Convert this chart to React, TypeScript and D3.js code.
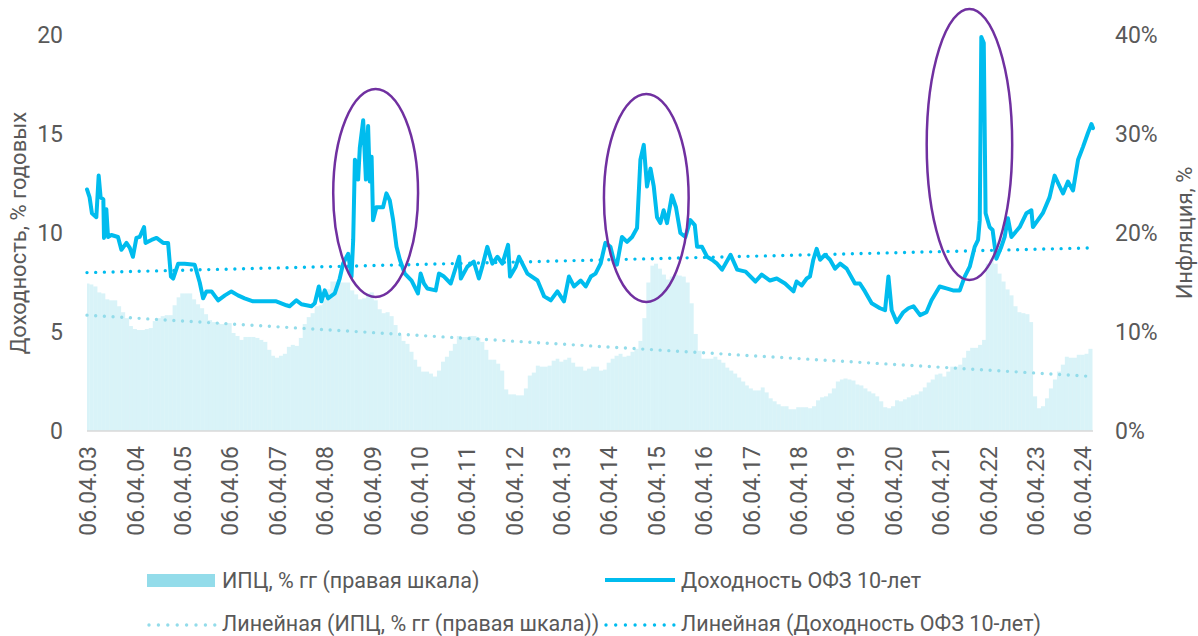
import React from "react";
import * as d3 from "d3";

// ---------- data ----------
const xTickLabels = [
  "06.04.03", "06.04.04", "06.04.05", "06.04.06", "06.04.07", "06.04.08", "06.04.09",
  "06.04.10", "06.04.11", "06.04.12", "06.04.13", "06.04.14", "06.04.15", "06.04.16",
  "06.04.17", "06.04.18", "06.04.19", "06.04.20", "06.04.21", "06.04.22", "06.04.23", "06.04.24",
];
const leftTicks = [0, 5, 10, 15, 20];
const rightTicks = [0, 10, 20, 30, 40];

// 10y OFZ yield, % p.a.
const ofzYield: [string, number][] = [
  ["2003-03-28", 12.2], ["2003-04-17", 11.8], ["2003-05-05", 11.0], ["2003-06-08", 10.8],
  ["2003-06-26", 12.9], ["2003-07-11", 11.8], ["2003-08-01", 11.7], ["2003-08-06", 9.75],
  ["2003-08-24", 11.2], ["2003-09-06", 9.8], ["2003-10-02", 9.9], ["2003-11-22", 9.8],
  ["2003-12-18", 9.15], ["2004-01-26", 9.5], ["2004-02-21", 9.25], ["2004-03-16", 8.8],
  ["2004-04-12", 9.75], ["2004-05-07", 9.8], ["2004-06-10", 10.3], ["2004-06-21", 9.5],
  ["2004-08-06", 9.65], ["2004-09-14", 9.75], ["2004-11-04", 9.5], ["2004-12-12", 9.5],
  ["2005-01-03", 7.8], ["2005-01-20", 7.7], ["2005-02-28", 8.45], ["2005-04-19", 8.45],
  ["2005-07-05", 8.4], ["2005-08-13", 7.5], ["2005-09-08", 6.7], ["2005-10-04", 7.05],
  ["2005-11-12", 7.05], ["2006-01-02", 6.6], ["2006-02-23", 6.85], ["2006-04-14", 7.05],
  ["2006-06-04", 6.85], ["2006-07-25", 6.7], ["2006-09-28", 6.55], ["2007-01-10", 6.55],
  ["2007-03-26", 6.55], ["2007-06-12", 6.35], ["2007-07-07", 6.3], ["2007-08-28", 6.6],
  ["2007-10-06", 6.4], ["2007-12-22", 6.3], ["2008-01-17", 6.45], ["2008-02-17", 7.3],
  ["2008-03-08", 6.55], ["2008-04-03", 7.1], ["2008-04-28", 6.7], ["2008-06-19", 6.95],
  ["2008-07-27", 7.7], ["2008-08-22", 8.45], ["2008-09-30", 8.95], ["2008-10-26", 7.8],
  ["2008-11-08", 9.65], ["2008-11-21", 13.7], ["2008-12-08", 13.5], ["2008-12-16", 12.7],
  ["2008-12-29", 14.3], ["2009-01-24", 15.7], ["2009-02-14", 12.7], ["2009-03-03", 15.4],
  ["2009-03-16", 12.6], ["2009-03-30", 13.85], ["2009-04-10", 10.65], ["2009-05-06", 11.3],
  ["2009-06-26", 11.3], ["2009-07-22", 12.0], ["2009-08-17", 11.65], ["2009-09-12", 10.65],
  ["2009-10-08", 9.3], ["2009-11-03", 8.65], ["2009-12-11", 7.95], ["2010-02-01", 7.6],
  ["2010-03-22", 6.95], ["2010-04-12", 7.95], ["2010-05-07", 7.45], ["2010-06-02", 7.2],
  ["2010-08-06", 7.1], ["2010-08-31", 7.95], ["2010-10-09", 7.8], ["2010-11-30", 7.45],
  ["2011-02-03", 8.8], ["2011-02-16", 7.7], ["2011-04-07", 8.3], ["2011-05-27", 8.55],
  ["2011-07-05", 7.7], ["2011-07-31", 8.3], ["2011-09-08", 9.3], ["2011-10-17", 8.45],
  ["2011-11-25", 8.8], ["2012-01-02", 8.45], ["2012-02-15", 9.4], ["2012-03-01", 7.8],
  ["2012-04-14", 8.3], ["2012-05-09", 8.8], ["2012-06-04", 8.45], ["2012-07-13", 7.95],
  ["2012-09-29", 7.6], ["2012-11-19", 6.8], ["2013-01-09", 6.6], ["2013-03-01", 7.05],
  ["2013-04-21", 6.55], ["2013-05-29", 7.8], ["2013-07-07", 7.3], ["2013-08-28", 7.6],
  ["2013-10-06", 7.3], ["2013-11-14", 7.8], ["2013-12-20", 7.95], ["2014-01-28", 8.45],
  ["2014-03-06", 9.5], ["2014-04-14", 9.3], ["2014-05-09", 8.65], ["2014-06-03", 8.4],
  ["2014-07-12", 9.8], ["2014-08-20", 9.55], ["2014-09-28", 9.8], ["2014-11-05", 10.25],
  ["2014-12-01", 13.7], ["2014-12-27", 14.45], ["2015-01-21", 12.35], ["2015-02-17", 13.25],
  ["2015-03-14", 12.35], ["2015-04-08", 10.8], ["2015-05-04", 10.5], ["2015-05-29", 11.15],
  ["2015-06-24", 10.5], ["2015-08-01", 11.9], ["2015-09-01", 11.3], ["2015-10-05", 10.0],
  ["2015-11-13", 9.8], ["2015-12-21", 10.65], ["2016-01-24", 10.4], ["2016-02-11", 9.3],
  ["2016-03-20", 9.3], ["2016-04-28", 8.8], ["2016-06-05", 8.65], ["2016-07-14", 8.45],
  ["2016-08-22", 8.15], ["2016-10-26", 8.9], ["2016-12-16", 8.15], ["2017-02-19", 8.05],
  ["2017-05-06", 7.55], ["2017-06-23", 7.9], ["2017-08-26", 7.6], ["2017-10-17", 7.7],
  ["2017-12-20", 7.45], ["2018-02-23", 7.05], ["2018-03-19", 7.55], ["2018-04-27", 7.35],
  ["2018-06-05", 7.7], ["2018-06-30", 7.8], ["2018-07-26", 8.65], ["2018-08-21", 9.2],
  ["2018-09-16", 8.65], ["2018-10-24", 8.9], ["2018-12-02", 8.65], ["2019-01-10", 8.2],
  ["2019-02-18", 8.45], ["2019-04-09", 8.2], ["2019-06-12", 7.45], ["2019-07-20", 7.45],
  ["2019-08-28", 7.05], ["2019-10-19", 6.45], ["2019-12-22", 6.2], ["2020-01-30", 6.1],
  ["2020-02-25", 7.8], ["2020-03-21", 6.1], ["2020-04-29", 5.5], ["2020-06-19", 6.0],
  ["2020-07-28", 6.2], ["2020-09-05", 6.3], ["2020-10-26", 5.85], ["2020-12-14", 6.0],
  ["2021-01-22", 6.6], ["2021-03-26", 7.3], ["2021-05-17", 7.2], ["2021-07-07", 7.1],
  ["2021-08-28", 7.1], ["2021-10-05", 7.8], ["2021-11-13", 8.3], ["2021-12-21", 9.3],
  ["2022-01-16", 9.65], ["2022-01-29", 10.65], ["2022-02-10", 19.9], ["2022-03-01", 19.6],
  ["2022-03-15", 11.0], ["2022-04-15", 10.3], ["2022-05-08", 10.15], ["2022-06-06", 8.7],
  ["2022-07-14", 9.3], ["2022-08-09", 9.8], ["2022-09-03", 10.75], ["2022-09-30", 9.8],
  ["2022-12-03", 10.3], ["2023-01-24", 11.0], ["2023-03-03", 11.15], ["2023-03-15", 10.3],
  ["2023-05-30", 11.0], ["2023-07-21", 11.8], ["2023-08-29", 12.9], ["2023-10-07", 12.35],
  ["2023-11-02", 12.0], ["2023-12-10", 12.6], ["2024-01-18", 12.15], ["2024-02-26", 13.7],
  ["2024-04-04", 14.35], ["2024-05-12", 15.05], ["2024-06-08", 15.5], ["2024-06-20", 15.3],
];

// CPI, % y/y, monthly from March 2003
const cpiStartMonth = "2003-03";
const cpiYoY: number[] = [
  14.9, 14.8, 14.6, 14.0, 13.9, 13.3, 13.2, 13.2, 12.6, 12.0,
  11.4, 10.6, 10.3, 10.2, 10.2, 10.3, 10.4, 11.1, 11.4, 11.6, 11.7, 11.7,
  12.7, 13.5, 13.9, 13.9, 13.9, 13.3, 12.8, 12.4, 11.8, 11.2, 11.0, 10.9,
  10.8, 10.9, 10.9, 9.9, 9.6, 9.2, 9.5, 9.5, 9.5, 9.4, 9.2, 9.0,
  8.2, 7.6, 7.4, 7.6, 7.8, 8.5, 8.7, 8.6, 9.4, 10.8, 11.5, 11.9,
  12.6, 12.7, 13.3, 14.3, 15.1, 15.1, 15.0, 15.0, 15.0, 14.2, 13.8, 13.3,
  13.4, 13.9, 14.0, 13.2, 12.3, 11.9, 12.0, 11.6, 10.7, 9.7, 9.1, 8.8,
  8.0, 7.2, 6.5, 6.0, 6.0, 5.8, 5.5, 6.1, 7.0, 7.5, 8.1, 8.8,
  9.6, 9.5, 9.5, 9.6, 9.6, 9.4, 9.0, 8.2, 7.2, 7.2, 6.8, 6.1,
  4.2, 3.7, 3.7, 3.6, 3.6, 4.3, 5.6, 5.9, 6.6, 6.5, 6.5, 6.6,
  7.1, 7.3, 7.0, 7.2, 7.4, 6.9, 6.5, 6.5, 6.1, 6.3, 6.5, 6.5,
  6.1, 6.2, 6.9, 7.3, 7.6, 7.8, 7.5, 7.6, 8.0, 8.3, 9.1, 11.4,
  15.0, 16.7, 16.9, 16.4, 15.8, 15.3, 15.6, 15.8, 15.7, 15.6, 15.0, 12.9,
  9.8, 8.1, 7.3, 7.3, 7.3, 7.5, 7.2, 6.9, 6.4, 6.1, 5.8, 5.4,
  5.0, 4.6, 4.3, 4.1, 4.1, 4.4, 3.9, 3.3, 3.0, 2.7, 2.5, 2.5,
  2.2, 2.2, 2.4, 2.4, 2.4, 2.3, 2.5, 3.1, 3.4, 3.5, 3.8, 4.3,
  5.0, 5.2, 5.3, 5.2, 5.1, 4.7, 4.6, 4.3, 4.0, 3.8, 3.5, 3.0,
  2.4, 2.3, 2.5, 3.1, 3.0, 3.2, 3.4, 3.6, 3.7, 4.0, 4.4, 4.9,
  5.2, 5.7, 5.8, 5.5, 6.0, 6.5, 6.5, 6.7, 7.4, 8.1, 8.4, 8.4,
  8.7, 9.2, 16.9, 17.4, 16.9, 15.9, 15.1, 14.3, 13.7, 12.6, 12.0, 11.9,
  11.8, 11.0, 3.5, 2.3, 2.5, 3.3, 4.3, 5.2, 6.0, 6.7, 7.5, 7.4,
  7.4, 7.7, 7.7, 7.8, 8.3,
];

// linear trends (start, end)
const ofzTrendEnds = [8.0, 9.25];
const cpiTrendEnds = [11.7, 5.5];

// highlighted episodes: [from, to, yield low, yield high]
const highlights: [string, string, number, number][] = [
  ["2008-06-07", "2010-03-23", 6.77, 17.27],
  ["2014-02-23", "2015-12-08", 6.52, 17.02],
  ["2020-12-16", "2022-10-06", 7.63, 21.31],
];

const legendTop = ["ИПЦ, % гг (правая шкала)", "Доходность ОФЗ 10-лет"];
const legendBottom = ["Линейная (ИПЦ, % гг (правая шкала))", "Линейная (Доходность ОФЗ 10-лет)"];

// ---------- layout ----------
const W = 1198;
const H = 636;
const L = 87;
const R = 1093;
const T = 35;
const B = 431;
const FONT = "Roboto, 'Noto Sans', sans-serif";
const TXT = "#595959";
const C_LINE = "#00bcee";
const C_BAR = "#93dcea";
const C_PURPLE = "#7030a0";
const LEG_FS = 21.5;

const parseDay = d3.utcParse("%Y-%m-%d");
const parseMonth = d3.utcParse("%Y-%m");
const parseTick = d3.utcParse("%d.%m.%y");

export default function App() {
  const x = d3.scaleUtc().domain([parseDay("2003-03-28")!, parseDay("2024-06-20")!]).range([L, R]);
  const yL = d3.scaleLinear().domain([0, 20]).range([B, T]);
  const yR = d3.scaleLinear().domain([0, 40]).range([B, T]);

  const start = parseMonth(cpiStartMonth)!;
  const bars = cpiYoY.map((v, i) => {
    const ms = d3.utcMonth.offset(start, i);
    const a = d3.utcDay.offset(ms, 15);
    const b = d3.utcDay.offset(d3.utcMonth.offset(ms, 1), 15);
    return { x0: x(a), x1: x(b), v };
  });

  const line = d3
    .line<[string, number]>()
    .x((d) => x(parseDay(d[0])!))
    .y((d) => yL(d[1]));

  const dom = x.domain();
  const dotted = {
    strokeDasharray: "0 8.7",
    strokeLinecap: "round" as const,
    strokeWidth: 3.4,
    fill: "none",
  };

  return (
    <svg
      width={W}
      height={H}
      style={{ position: "absolute", left: 0, top: 0, background: "#fff" }}
      fontFamily={FONT}
    >
      <defs>
        <clipPath id="plot">
          <rect x={L} y={0} width={R - L} height={B} />
        </clipPath>
      </defs>

      <g clipPath="url(#plot)">
        {bars.map((b, i) => (
          <rect
            key={i}
            x={b.x0}
            width={b.x1 - b.x0}
            y={yR(b.v)}
            height={yR(0) - yR(b.v)}
            fill={C_BAR}
            fillOpacity={0.35}
          />
        ))}
      </g>

      <line x1={L} x2={R} y1={B} y2={B} stroke="#d9d9d9" strokeWidth={1.5} />

      <line
        x1={x(dom[0])}
        x2={x(dom[1])}
        y1={yR(cpiTrendEnds[0])}
        y2={yR(cpiTrendEnds[1])}
        stroke={C_BAR}
        {...dotted}
      />
      <line
        x1={x(dom[0])}
        x2={x(dom[1])}
        y1={yL(ofzTrendEnds[0])}
        y2={yL(ofzTrendEnds[1])}
        stroke={C_LINE}
        {...dotted}
      />

      <path
        d={line(ofzYield) || ""}
        fill="none"
        stroke={C_LINE}
        strokeWidth={4}
        strokeLinejoin="round"
        strokeLinecap="round"
      />

      {highlights.map((h, i) => {
        const x0 = x(parseDay(h[0])!);
        const x1 = x(parseDay(h[1])!);
        const y0 = yL(h[2]);
        const y1 = yL(h[3]);
        return (
          <ellipse
            key={i}
            cx={(x0 + x1) / 2}
            cy={(y0 + y1) / 2}
            rx={(x1 - x0) / 2}
            ry={(y0 - y1) / 2}
            fill="none"
            stroke={C_PURPLE}
            strokeWidth={2.5}
          />
        );
      })}

      {/* left axis */}
      {leftTicks.map((t) => (
        <text key={t} x={63} y={yL(t)} dy="0.35em" textAnchor="end" fontSize={23} fill={TXT}>
          {t}
        </text>
      ))}
      {/* right axis */}
      {rightTicks.map((t) => (
        <text key={t} x={1115} y={yR(t)} dy="0.35em" textAnchor="start" fontSize={23} fill={TXT}>
          {t}%
        </text>
      ))}
      {/* x axis */}
      {xTickLabels.map((lab) => {
        const px = x(parseTick(lab)!);
        return (
          <text
            key={lab}
            transform={`translate(${px},446) rotate(-90)`}
            dy="0.35em"
            textAnchor="end"
            fontSize={23}
            fill={TXT}
          >
            {lab}
          </text>
        );
      })}

      <text transform="translate(26,233) rotate(-90)" textAnchor="middle" fontSize={22} fill={TXT}>
        Доходность, % годовых
      </text>
      <text transform="translate(1192,233) rotate(-90)" textAnchor="middle" fontSize={22} fill={TXT}>
        Инфляция, %
      </text>

      {/* legend */}
      <rect x={147} y={574} width={68} height={13} fill={C_BAR} />
      <text x={222} y={588} fontSize={LEG_FS} fill={TXT}>{legendTop[0]}</text>
      <line x1={605} x2={675} y1={580} y2={580} stroke={C_LINE} strokeWidth={4} />
      <text x={681} y={588} fontSize={LEG_FS} fill={TXT}>{legendTop[1]}</text>

      <line x1={149} x2={215} y1={625} y2={625} stroke={C_BAR} {...dotted} strokeDasharray="0 9.4" />
      <text x={222} y={631} fontSize={LEG_FS} fill={TXT}>{legendBottom[0]}</text>
      <line x1={606} x2={675} y1={625} y2={625} stroke={C_LINE} {...dotted} strokeDasharray="0 9.7" />
      <text x={681} y={631} fontSize={LEG_FS} fill={TXT}>{legendBottom[1]}</text>
    </svg>
  );
}
